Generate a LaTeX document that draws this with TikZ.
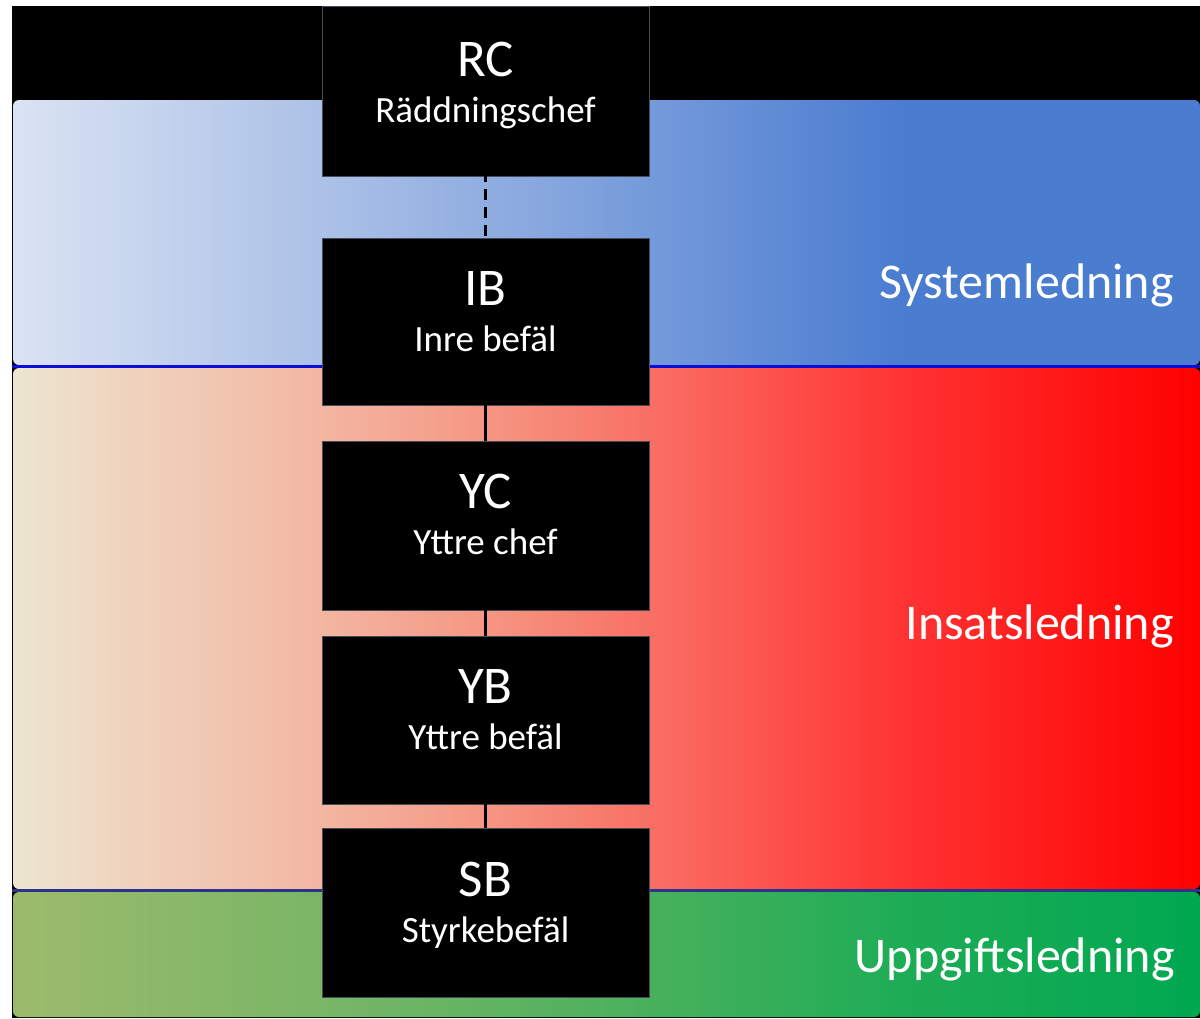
\documentclass[tikz,border=0pt]{standalone}
\usepackage{fontspec}
\newfontfamily\cf{Carlito}
\pgfdeclarehorizontalshading{blueband}{100bp}{rgb(0bp)=(0.855,0.890,0.953); rgb(25bp)=(0.855,0.890,0.953); rgb(38bp)=(0.675,0.757,0.906); rgb(62.5bp)=(0.29,0.486,0.816); rgb(100bp)=(0.29,0.486,0.816)}
\pgfdeclarehorizontalshading{redband}{100bp}{rgb(0bp)=(0.929,0.898,0.816); rgb(25bp)=(0.929,0.898,0.816); rgb(38.5bp)=(0.953,0.706,0.627); rgb(45bp)=(0.961,0.588,0.51); rgb(52.5bp)=(0.98,0.42,0.38); rgb(62.5bp)=(1,0.2,0.2); rgb(75bp)=(1,0,0); rgb(100bp)=(1,0,0)}
\pgfdeclarehorizontalshading{greenband}{100bp}{rgb(0bp)=(0.616,0.729,0.424); rgb(25bp)=(0.616,0.729,0.424); rgb(38.5bp)=(0.47,0.714,0.4); rgb(52.5bp)=(0.275,0.69,0.36); rgb(62.5bp)=(0.118,0.675,0.337); rgb(75bp)=(0,0.659,0.314); rgb(100bp)=(0,0.659,0.314)}
\definecolor{boxedge}{rgb}{0.28,0.3,0.35}
\definecolor{lineblue}{rgb}{0.05,0.05,0.85}
\definecolor{linenavy}{rgb}{0.17,0.2,0.55}
\tikzset{
  cbox/.style={rectangle, fill=black, draw=boxedge, line width=0.8pt, minimum width=327pt, inner sep=0pt},
  biglbl/.style={anchor=base, inner sep=0pt, text=white, font=\cf\fontsize{53}{60}\selectfont},
  smalllbl/.style={anchor=base, inner sep=0pt, text=white, font=\cf\fontsize{37}{42}\selectfont},
  bandlbl/.style={anchor=base east, inner sep=0pt, text=white, font=\cf\fontsize{50}{56}\selectfont},
  conn/.style={draw=black, line width=2.5pt},
}
\begin{document}
\begin{tikzpicture}[x=1pt,y=-1pt]
\useasboundingbox (0,0) rectangle (1200,1018);
\fill[white] (0,0) rectangle (1200,1018);
\fill[black] (12,6) rectangle (1200,1018);
% bands
\shade[shading=blueband, rounded corners=6pt] (13,100) rectangle (1200,365);
\shade[shading=redband, rounded corners=6pt] (13,368) rectangle (1200,889);
\shade[shading=greenband, rounded corners=6pt] (13,892) rectangle (1200,1017);
\draw[lineblue, line width=2.5pt] (12,366.5) -- (1200,366.5);
\draw[linenavy, line width=3pt] (12,890.5) -- (1200,890.5);
% boxes
\node[cbox, minimum height=170pt] (rc) at (485.5,91) {};
\node[cbox, minimum height=167pt] (ib) at (485.5,321.5) {};
\node[cbox, minimum height=169pt] (yc) at (485.5,525.5) {};
\node[cbox, minimum height=168pt] (yb) at (485.5,720) {};
\node[cbox, minimum height=169pt] (sb) at (485.5,912.5) {};
% connectors
\draw[conn, dash pattern=on 11pt off 7pt, dash phase=5pt] (rc.south) -- (ib.north);
\draw[conn] (ib.south) -- (yc.north);
\draw[conn] (yc.south) -- (yb.north);
\draw[conn] (yb.south) -- (sb.north);
% labels
\node[biglbl] (rct) at ([yshift=-71pt]rc.north) {RC};
\node[smalllbl] (rcs) at ([yshift=-117pt]rc.north) {Räddningschef};
\node[biglbl] (ibt) at ([yshift=-68pt]ib.north) {IB};
\node[smalllbl] (ibs) at ([yshift=-114pt]ib.north) {Inre befäl};
\node[biglbl] (yct) at ([yshift=-68pt]yc.north) {YC};
\node[smalllbl] (ycs) at ([yshift=-114pt]yc.north) {Yttre chef};
\node[biglbl] (ybt) at ([yshift=-68pt]yb.north) {YB};
\node[smalllbl] (ybs) at ([yshift=-114pt]yb.north) {Yttre befäl};
\node[biglbl] (sbt) at ([yshift=-69pt]sb.north) {SB};
\node[smalllbl] (sbs) at ([yshift=-115pt]sb.north) {Styrkebefäl};
% band labels
\node[bandlbl] (sys) at (1174,298) {Systemledning};
\node[bandlbl] (ins) at (1174,639) {Insatsledning};
\node[bandlbl] (upp) at (1175,972) {Uppgiftsledning};
\end{tikzpicture}
\end{document}
